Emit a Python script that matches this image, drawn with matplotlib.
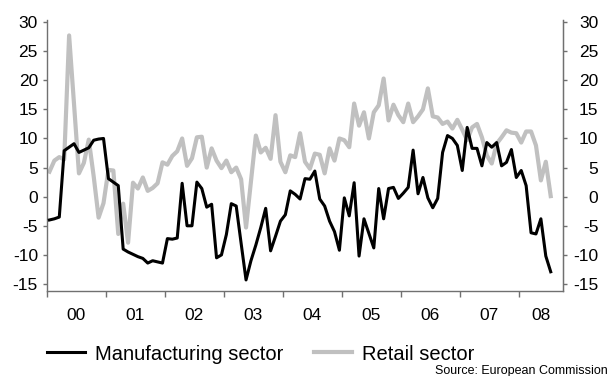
import matplotlib
matplotlib.use("Agg")
import matplotlib.pyplot as plt
import numpy as np
from matplotlib.lines import Line2D

plt.rcParams['font.family'] = ['Liberation Sans', 'DejaVu Sans']

# Monthly confidence balances, Jan 2000 - Jul 2008
start_year = 2000
manufacturing = [
    -4.0, -3.8, -3.5, 7.9, 8.5, 9.1, 7.6, 8.0, 8.4, 9.7, 9.9, 10.0,
    3.1, 2.5, 1.9, -9.0, -9.5, -9.9, -10.3, -10.6, -11.4, -11.0, -11.2, -11.4,
    -7.2, -7.3, -7.1, 2.3, -5.0, -5.0, 2.5, 1.4, -1.8, -1.3, -10.5, -10.0,
    -6.5, -1.2, -1.6, -8.0, -14.3, -11.0, -8.3, -5.3, -2.0, -9.3, -6.8, -4.2,
    -3.1, 1.0, 0.4, -0.4, 3.1, 3.0, 4.4, -0.4, -1.6, -4.2, -6.0, -9.2,
    -0.2, -3.3, 2.4, -10.2, -3.8, -6.3, -8.8, 1.4, -3.8, 1.4, 1.6, -0.3,
    0.6, 1.6, 8.0, 0.5, 3.3, -0.2, -1.9, -0.3, 7.6, 10.5, 10.0, 8.8,
    4.5, 11.9, 8.3, 8.3, 5.3, 9.3, 8.5, 9.3, 5.3, 5.9, 8.1, 3.3,
    4.5, 1.9, -6.2, -6.4, -3.8, -10.2, -12.9,
]
retail = [
    4.3, 6.2, 6.8, 6.4, 27.7, 15.9, 4.0, 5.8, 9.8, 3.5, -3.6, -1.1,
    4.6, 4.5, -6.4, -1.2, -7.9, 2.4, 1.4, 3.3, 1.0, 1.5, 2.3, 5.9,
    5.5, 7.0, 7.8, 10.0, 5.3, 6.6, 10.2, 10.3, 5.0, 8.3, 6.2, 4.9,
    6.2, 4.2, 5.0, 3.0, -5.3, 2.6, 10.5, 7.6, 8.4, 6.5, 14.0, 6.0,
    4.2, 7.1, 6.8, 10.9, 6.0, 4.8, 7.4, 7.2, 4.0, 8.3, 6.2, 10.0,
    9.7, 8.5, 16.0, 12.2, 14.5, 10.0, 14.5, 15.7, 20.3, 13.1, 15.8, 14.0,
    12.8, 16.0, 12.8, 13.8, 15.0, 18.6, 13.8, 13.6, 12.5, 12.9, 11.7, 13.2,
    11.5, 9.7, 11.9, 12.5, 10.2, 7.1, 5.7, 9.1, 10.2, 11.4, 11.0, 10.9,
    9.3, 11.2, 11.2, 8.8, 2.8, 6.0, 0.1,
]
year_labels = ['00', '01', '02', '03', '04', '05', '06', '07', '08']
y_ticks = [-15, -10, -5, 0, 5, 10, 15, 20, 25, 30]
series_names = ['Manufacturing sector', 'Retail sector']
source_note = 'Source: European Commission'

months = np.arange(len(manufacturing))
x = start_year + (months + 0.5) / 12.0
x_end = start_year + 8.75

black = '#000000'
grey = '#c0c0c0'
spine_col = '#707070'

fig = plt.figure(figsize=(6.11, 3.76), dpi=100)
ax = fig.add_axes([47 / 611, 85 / 376, 516 / 611, 271 / 376])

ax.plot(x, retail, color=grey, lw=3.0, zorder=2)
ax.plot(x, manufacturing, color=black, lw=2.2, zorder=3)

ax.set_xlim(start_year, x_end)
ax.set_ylim(-16.2, 30.35)

for side in ('top',):
    ax.spines[side].set_visible(False)
for side in ('left', 'bottom', 'right'):
    ax.spines[side].set_color(spine_col)
    ax.spines[side].set_linewidth(1.0)

# year boundaries as ticks, labels centred inside each year
years = np.arange(start_year, start_year + len(year_labels))
ax.set_xticks(years)
ax.set_xticklabels([''] * len(years))
label_pos = [y + 0.5 for y in years[:-1]] + [(years[-1] + x_end) / 2]
ax.set_xticks(label_pos, minor=True)
ax.set_xticklabels(year_labels, minor=True, fontsize=12.5)
ax.tick_params(axis='x', which='major', direction='out', length=4,
               width=1, color=spine_col)
ax.tick_params(axis='x', which='minor', length=0, pad=12)

ax.set_yticks(y_ticks)
ax.set_yticklabels([str(v) for v in y_ticks], fontsize=12.5)
ax.tick_params(axis='y', direction='out', length=3, width=1,
               color=spine_col, pad=3.5)

# mirrored scale on the right, right-aligned like the left one
ax2 = ax.twinx()
ax2.set_ylim(ax.get_ylim())
ax2.set_yticks(y_ticks)
ax2.set_yticklabels([str(v) for v in y_ticks], fontsize=12.5)
for lab in ax2.get_yticklabels():
    lab.set_horizontalalignment('right')
ax2.tick_params(axis='y', direction='out', length=3, width=1,
                color=spine_col, pad=22.5)
for side in ('top', 'left', 'bottom'):
    ax2.spines[side].set_visible(False)
ax2.spines['right'].set_color(spine_col)

handles = [Line2D([], [], color=black, lw=2.2),
           Line2D([], [], color=grey, lw=3.0)]
fig.legend(handles, series_names, loc='center left',
           bbox_to_anchor=(47 / 611, 1 - 354 / 376), ncol=2,
           frameon=False, fontsize=14.5, handlelength=1.9,
           handletextpad=0.5, columnspacing=1.5,
           borderpad=0, borderaxespad=0)

fig.text(608 / 611, 1 - 371 / 376, source_note, ha='right', va='center',
         fontsize=9)

fig.savefig('out.png', dpi=100)
